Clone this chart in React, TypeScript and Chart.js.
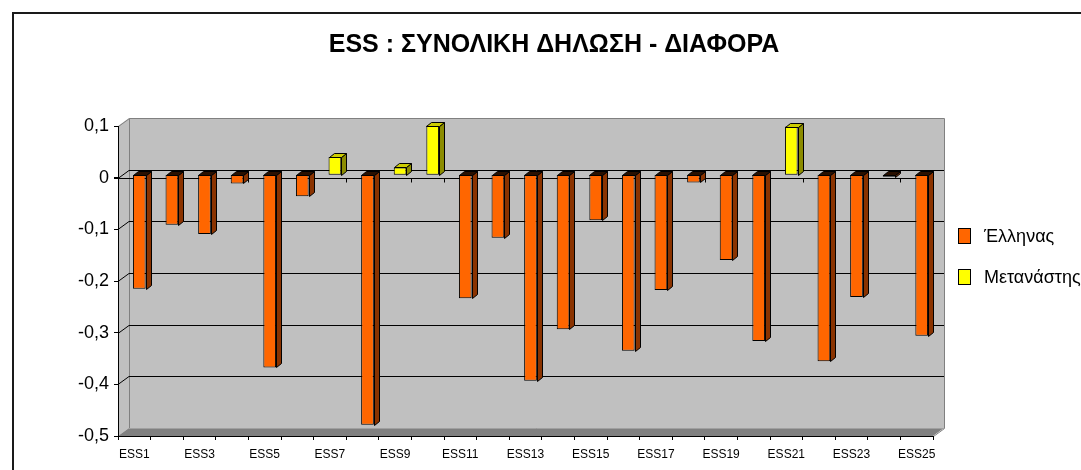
import React, { useEffect, useRef } from 'react';
import { Chart, registerables } from 'chart.js';

Chart.register(...registerables);

const categories = [
  'ESS1', 'ESS2', 'ESS3', 'ESS4', 'ESS5', 'ESS6', 'ESS7', 'ESS8', 'ESS9', 'ESS10',
  'ESS11', 'ESS12', 'ESS13', 'ESS14', 'ESS15', 'ESS16', 'ESS17', 'ESS18', 'ESS19', 'ESS20',
  'ESS21', 'ESS22', 'ESS23', 'ESS24', 'ESS25',
];

const greekLabel = 'Έλληνας';
const migrantLabel = 'Μετανάστης';

const greekValues: (number | null)[] = [
  -0.221, -0.097, -0.115, -0.017, -0.373, -0.042, null, -0.484, null, null,
  -0.239, -0.122, -0.399, -0.299, -0.088, -0.341, -0.223, -0.015, -0.165, -0.322,
  null, -0.361, -0.237, -0.004, -0.312,
];

const migrantValues: (number | null)[] = [
  null, null, null, null, null, null, 0.034, null, 0.014, 0.095,
  null, null, null, null, null, null, null, null, null, null,
  0.093, null, null, null, null,
];

const titleText = 'ESS : ΣΥΝΟΛΙΚΗ ΔΗΛΩΣΗ - ΔΙΑΦΟΡΑ';
const yMin = -0.5;
const yMax = 0.1;
const yStep = 0.1;

const FONT = '"Liberation Sans", Arial, sans-serif';

// 3D look
const DX = 11;
const DY = -8;
const BX = 5;
const BY = -4;
const SHIFT_X = 5;
const SHIFT_Y = -3;

const faceColors: Record<number, { side: string; top: string; front: string }> = {
  0: { front: '#FF6600', side: '#8A3300', top: '#2A1000' },
  1: { front: '#FFFF00', side: '#8C8C00', top: '#CCCC00' },
};

function poly(ctx: CanvasRenderingContext2D, pts: number[][], fill: string, stroke?: string) {
  ctx.beginPath();
  ctx.moveTo(pts[0][0], pts[0][1]);
  for (let i = 1; i < pts.length; i++) ctx.lineTo(pts[i][0], pts[i][1]);
  ctx.closePath();
  ctx.fillStyle = fill;
  ctx.fill();
  if (stroke) {
    ctx.strokeStyle = stroke;
    ctx.lineWidth = 1;
    ctx.stroke();
  }
}

const scenePlugin = {
  id: 'scene3d',
  beforeDraw(chart: any) {
    const { ctx, chartArea: a, scales } = chart;
    const y = scales.y;
    ctx.save();
    // outer frame
    ctx.strokeStyle = '#1a1a1a';
    ctx.lineWidth = 2;
    ctx.strokeRect(13, 13, chart.width + 40, chart.height + 40);

    // side wall
    poly(ctx, [[a.left, a.top], [a.left + DX, a.top + DY], [a.left + DX, a.bottom + DY], [a.left, a.bottom]], '#C0C0C0');
    // back wall
    ctx.fillStyle = '#C0C0C0';
    ctx.fillRect(a.left + DX, a.top + DY, a.right - a.left, a.bottom - a.top);
    // floor
    poly(ctx, [[a.left, a.bottom], [a.left + DX, a.bottom + DY], [a.right + DX, a.bottom + DY], [a.right, a.bottom]], '#808080');

    // wall edges
    ctx.strokeStyle = '#808080';
    ctx.lineWidth = 1;
    ctx.beginPath();
    ctx.moveTo(a.left + 0.5, a.top + 0.5);
    ctx.lineTo(a.left + DX + 0.5, a.top + DY + 0.5);
    ctx.lineTo(a.right + DX + 0.5, a.top + DY + 0.5);
    ctx.lineTo(a.right + DX + 0.5, a.bottom + DY + 0.5);
    ctx.lineTo(a.right + 0.5, a.bottom + 0.5);
    ctx.moveTo(a.left + DX + 0.5, a.top + DY + 0.5);
    ctx.lineTo(a.left + DX + 0.5, a.bottom + DY + 0.5);
    ctx.stroke();

    // floor top edge (lighter)
    ctx.strokeStyle = '#A0A0A0';
    ctx.beginPath();
    ctx.moveTo(a.left + DX, a.bottom + DY + 0.5);
    ctx.lineTo(a.right + DX, a.bottom + DY + 0.5);
    ctx.stroke();

    // grid lines on side + back wall
    ctx.strokeStyle = '#000';
    ctx.lineWidth = 1;
    y.ticks.forEach((t: any) => {
      const v = t.value;
      if (v >= yMax - 1e-9 || v <= yMin + 1e-9) return;
      const yy = Math.round(y.getPixelForValue(v)) + 0.5;
      ctx.beginPath();
      ctx.moveTo(a.left, yy);
      ctx.lineTo(a.left + DX, yy + DY);
      ctx.lineTo(a.right + DX, yy + DY);
      ctx.stroke();
    });
    ctx.restore();
  },
  beforeDatasetsDraw(chart: any) {
    const { ctx, chartArea: a, scales } = chart;
    const y = scales.y;
    ctx.save();
    // front zero line with ticks
    const y0 = Math.round(y.getPixelForValue(0)) + 0.5;
    ctx.strokeStyle = '#000';
    ctx.lineWidth = 1;
    ctx.beginPath();
    ctx.moveTo(a.left - 4, y0);
    ctx.lineTo(a.right, y0);
    const n = categories.length;
    const w = (a.right - a.left) / n;
    for (let i = 1; i <= n; i++) {
      const xx = Math.round(a.left + i * w) + 0.5;
      ctx.moveTo(xx, y0);
      ctx.lineTo(xx, y0 + 4);
    }
    ctx.stroke();
    ctx.restore();
    ctx.save();
    ctx.translate(SHIFT_X, SHIFT_Y);
  },
  afterDatasetsDraw(chart: any) {
    const { ctx } = chart;
    chart.data.datasets.forEach((ds: any, di: number) => {
      const meta = chart.getDatasetMeta(di);
      const col = faceColors[di];
      meta.data.forEach((el: any, i: number) => {
        if (ds.data[i] === null || ds.data[i] === undefined) return;
        const p = el.getProps(['x', 'y', 'base', 'width'], true);
        if (!isFinite(p.y)) return;
        const left = Math.round(p.x - p.width / 2) + 0.5;
        const right = Math.round(p.x + p.width / 2) + 0.5;
        const top = Math.round(Math.min(p.y, p.base)) + 0.5;
        const bottom = Math.round(Math.max(p.y, p.base)) + 0.5;
        poly(ctx, [[right, top], [right + BX, top + BY], [right + BX, bottom + BY], [right, bottom]], col.side, '#000');
        poly(ctx, [[left, top], [left + BX, top + BY], [right + BX, top + BY], [right, top]], col.top, '#000');
      });
    });
    ctx.restore();
  },
  afterDraw(chart: any) {
    const { ctx } = chart;
    ctx.save();
    // title
    ctx.fillStyle = '#000';
    ctx.font = `bold 25px ${FONT}`;
    ctx.textAlign = 'center';
    ctx.textBaseline = 'middle';
    ctx.fillText(titleText, 554, 45);
    // legend
    const items = [
      { label: chart.data.datasets[0].label, color: chart.data.datasets[0].backgroundColor, y: 228 },
      { label: chart.data.datasets[1].label, color: chart.data.datasets[1].backgroundColor, y: 269 },
    ];
    ctx.font = `18px ${FONT}`;
    ctx.textAlign = 'left';
    items.forEach((it) => {
      ctx.fillStyle = it.color;
      ctx.fillRect(958.5, it.y + 0.5, 12, 15);
      ctx.strokeStyle = '#000';
      ctx.lineWidth = 1;
      ctx.strokeRect(958.5, it.y + 0.5, 12, 15);
      ctx.fillStyle = '#000';
      ctx.fillText(it.label, 984, it.y + 9);
    });
    ctx.restore();
  },
};

export default function App() {
  const ref = useRef<HTMLCanvasElement>(null);
  useEffect(() => {
    if (!ref.current) return;
    const chart = new Chart(ref.current, {
      type: 'bar',
      data: {
        labels: categories,
        datasets: [
          {
            label: greekLabel,
            data: greekValues,
            backgroundColor: '#FF6600',
            borderColor: '#000',
            borderWidth: 1,
            borderSkipped: false,
            grouped: false,
            barPercentage: 0.39,
            categoryPercentage: 1,
            clip: false,
          } as any,
          {
            label: migrantLabel,
            data: migrantValues,
            backgroundColor: '#FFFF00',
            borderColor: '#000',
            borderWidth: 1,
            borderSkipped: false,
            grouped: false,
            barPercentage: 0.39,
            categoryPercentage: 1,
            clip: false,
          } as any,
        ],
      },
      options: {
        responsive: false,
        devicePixelRatio: 1,
        animation: false,
        layout: { padding: { left: 18, right: 148, top: 126, bottom: 0 } },
        plugins: {
          legend: { display: false },
          title: { display: false },
          tooltip: { enabled: false },
        },
        scales: {
          x: {
            afterFit: (s: any) => {
              s.height = 34;
            },
            grid: { offset: true, drawOnChartArea: false, drawTicks: true, tickLength: 4, color: '#000' },
            border: { display: true, color: '#000' },
            ticks: {
              autoSkip: false,
              maxRotation: 0,
              minRotation: 0,
              padding: 7,
              color: '#000',
              font: { family: FONT, size: 12 },
              callback: (_v: any, i: number) => (i % 2 === 0 ? categories[i] : ''),
            },
          },
          y: {
            min: yMin,
            max: yMax,
            afterFit: (s: any) => {
              s.width = 100;
            },
            grid: { drawOnChartArea: false, drawTicks: true, tickLength: 4, color: '#000' },
            border: { display: true, color: '#000' },
            ticks: {
              stepSize: yStep,
              padding: 5,
              color: '#000',
              font: { family: FONT, size: 18 },
              callback: (v: any) => String(Math.round(Number(v) * 10) / 10).replace('.', ','),
            },
          },
        },
      } as any,
      plugins: [scenePlugin],
    });
    return () => chart.destroy();
  }, []);
  return (
    <div style={{ position: 'absolute', left: 0, top: 0, width: 1081, height: 470, background: '#fff' }}>
      <canvas ref={ref} width={1081} height={470} style={{ display: 'block', width: 1081, height: 470 }} />
    </div>
  );
}
